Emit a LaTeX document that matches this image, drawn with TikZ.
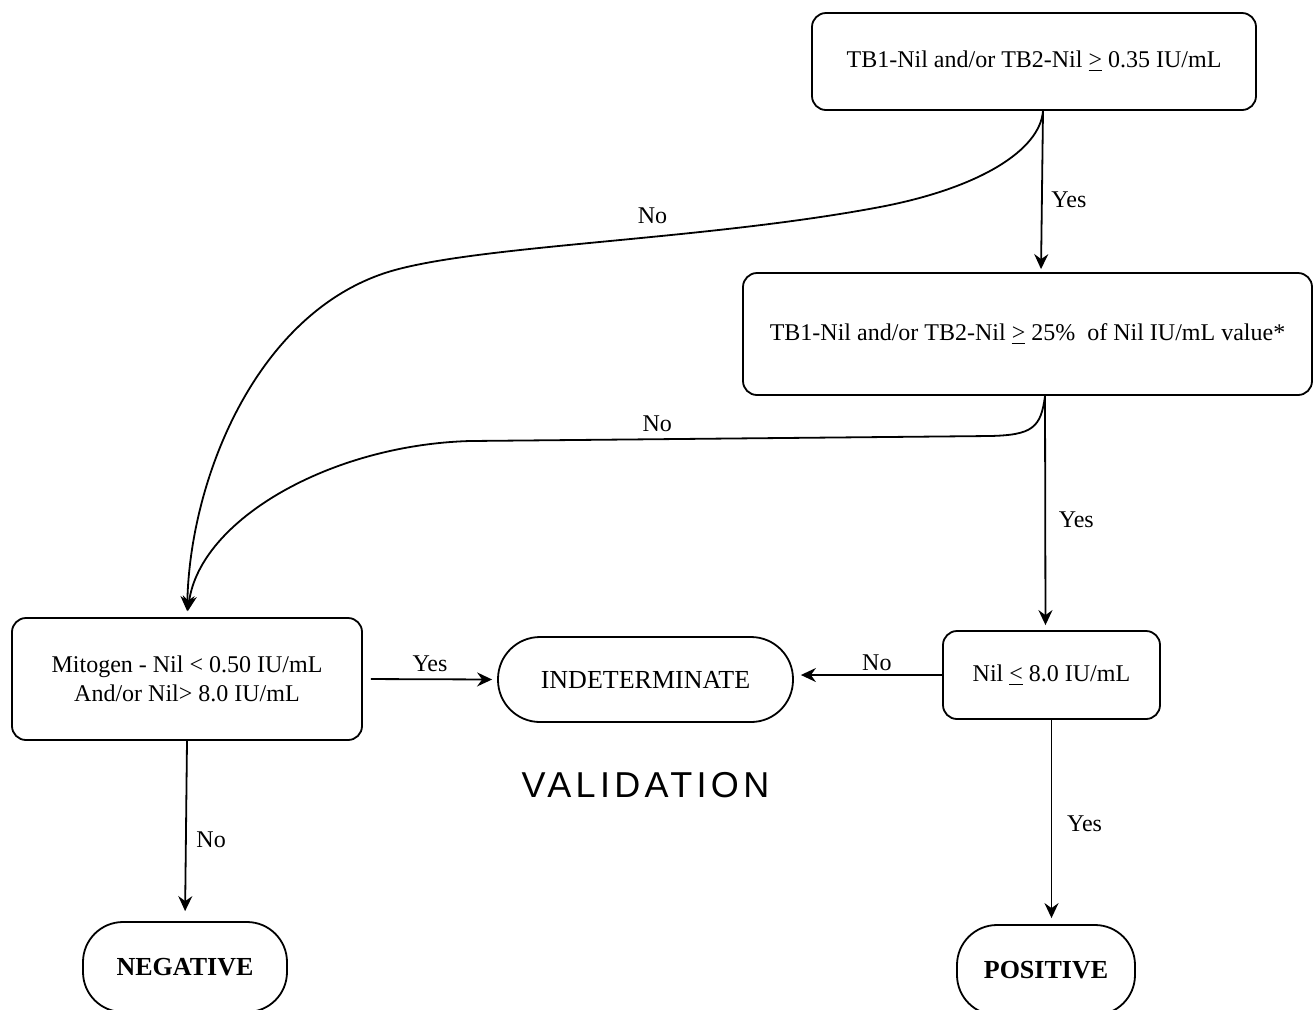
\documentclass[tikz,border=0pt]{standalone}
\usepackage{fontspec}
\setmainfont{Liberation Serif}
\newfontfamily\valfont[LetterSpace=12]{Liberation Sans}
\usetikzlibrary{arrows.meta, positioning}
\tikzset{
  box/.style={
    rectangle, draw=black, rounded corners=7pt, line width=0.9pt,
    align=center, font=\fontsize{12}{14.5}\selectfont
  },
  outcome/.style={box, rounded corners=20pt, font=\fontsize{13}{15}\selectfont},
  edge/.style={-{Stealth[length=7.5pt, width=7pt, inset=2.5pt]}, line width=0.9pt},
  lbl/.style={font=\fontsize{12}{14}\selectfont}
}

\begin{document}
\begin{tikzpicture}[x=0.5pt, y=-0.5pt]
    \useasboundingbox (0,0) rectangle (1313,1009);
    \node[box, minimum width=222pt, minimum height=48.5pt] (tbA) at (1034,61.5) {TB1-Nil and/or TB2-Nil \underline{>} 0.35 IU/mL};
    \node[box, minimum width=284.5pt, minimum height=61pt] (tbB) at (1027.5,334) {TB1-Nil and/or TB2-Nil \underline{>} 25\%\ \ of Nil IU/mL value*};
    \node[box, minimum width=175pt, minimum height=61pt] (mito) at (187,679) {Mitogen - Nil < 0.50 IU/mL\\And/or Nil> 8.0 IU/mL};
    \node[box, minimum width=108.5pt, minimum height=44pt] (nil) at (1051.5,675) {Nil \underline{<} 8.0 IU/mL};
    \node[outcome, rounded corners=21pt, minimum width=147.5pt, minimum height=42.5pt] (indet) at (645.5,679.5) {INDETERMINATE};
    \node[outcome, minimum width=102pt, minimum height=45pt] (neg) at (185,967) {\textbf{NEGATIVE}};
    \node[outcome, minimum width=89pt, minimum height=45pt] (pos) at (1046,970) {\textbf{POSITIVE}};
    \node[below=21pt of indet, font=\valfont\fontsize{18}{20}\selectfont] (valid) {VALIDATION};
    % yes branches
    \draw[edge, shorten >=1.5pt] ([xshift=4.5pt]tbA.south) -- node[lbl, right=1pt, pos=0.55] {Yes} ([xshift=6.75pt]tbB.north);
    \draw[edge, shorten >=2.5pt] ([xshift=8.75pt]tbB.south) -- node[lbl, right=3pt, pos=0.53] {Yes} ([xshift=-3pt]nil.north);
    \draw[edge, shorten >=3pt] (nil.south) -- node[lbl, right=4pt, pos=0.51] {Yes} (nil.south |- pos.north);
    \draw[edge, shorten <=4pt, shorten >=2.5pt] (mito.east) -- node[lbl, above] {Yes} (indet.west);
    % no branches
    \draw[edge, shorten >=3.5pt] (nil.west) -- node[lbl, above=-1.5pt, pos=0.44] {No} (nil.west -| indet.east);
    \draw[edge, shorten >=5pt] (mito.south) -- node[lbl, right=1.5pt, pos=0.55] {No} (neg.north);
    \draw[edge, shorten >=3pt] ([xshift=4.5pt]tbA.south) .. controls (1040,150) and (980,188) .. (880,207)
        .. controls (700,241) and (470,245) .. node[lbl, above=3pt, pos=0.4] {No} (385,273)
        .. controls (255,316) and (190,480) .. (mito.north);
    \draw[edge, shorten >=3pt] ([xshift=8.75pt]tbB.south) .. controls (1041,428) and (1032,435) .. (990,436)
        -- node[lbl, above, pos=0.64] {No} (470,441)
        .. controls (330,445) and (200,520) .. (mito.north);
\end{tikzpicture}
\end{document}
